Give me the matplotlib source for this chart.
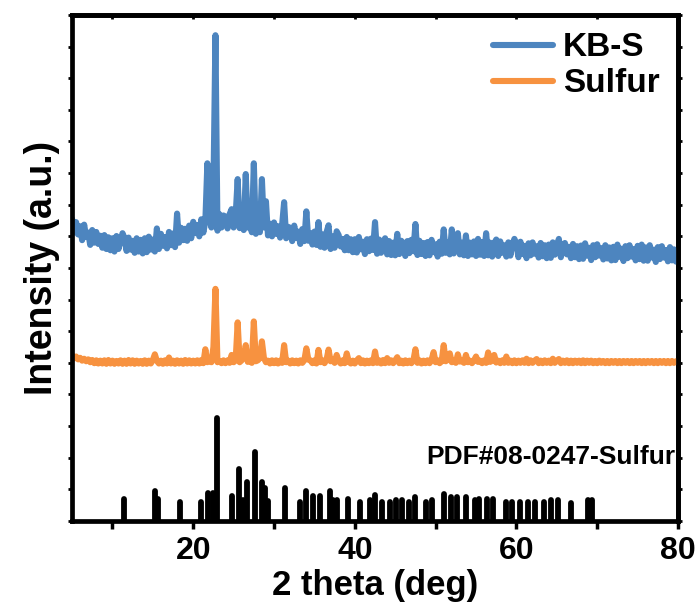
import numpy as np
import matplotlib
matplotlib.use("Agg")
import matplotlib.pyplot as plt

plt.rcParams['font.family'] = ['Liberation Sans', 'DejaVu Sans']
plt.rcParams['font.weight'] = 'bold'

# ---------------- data ----------------
two_theta = np.arange(5.0, 80.001, 0.25)

kbs_intensity = [
    9.55, 9.12, 9.45, 9.06,   # 5
    9.32, 8.88, 9.37, 8.98,   # 6
    9.12, 8.73, 9.20, 8.80,   # 7
    9.14, 8.76, 9.02, 8.64,   # 8
    9.04, 8.60, 8.97, 8.56,   # 9
    8.94, 8.52, 9.01, 8.60,   # 10
    8.84, 9.10, 8.94, 8.54,   # 11
    8.96, 8.58, 8.86, 8.48,   # 12
    8.94, 8.52, 8.89, 8.46,   # 13
    8.94, 8.50, 8.99, 8.58,   # 14
    8.90, 8.52, 9.25, 8.60,   # 15
    9.08, 8.70, 8.98, 8.62,   # 16
    9.14, 8.72, 9.09, 8.66,   # 17
    9.72, 8.80, 9.27, 8.88,   # 18
    9.24, 8.86, 9.34, 8.94,   # 19
    9.46, 9.10, 9.36, 9.00,   # 20
    9.54, 9.12, 9.47, 11.31,  # 21
    9.60, 9.28, 10.49, 15.36, # 22
    9.18, 9.70, 9.28, 9.66,   # 23
    9.62, 9.25, 9.70, 9.86,   # 24
    9.28, 9.66, 10.81, 9.26,  # 25
    9.60, 9.20, 10.97, 9.28,  # 26
    9.58, 9.13, 11.31, 9.08,  # 27
    9.50, 9.13, 10.81, 9.28,  # 28
    10.11, 9.03, 9.40, 9.00,  # 29
    9.44, 9.08, 9.32, 8.96,   # 30
    9.36, 10.08, 8.94, 9.30,  # 31
    9.27, 8.85, 9.34, 8.95,   # 32
    9.15, 8.76, 9.23, 8.85,   # 33
    9.79, 8.86, 9.10, 8.74,   # 34
    9.15, 8.73, 9.45, 8.67,   # 35
    9.06, 8.64, 9.13, 9.35,   # 36
    8.60, 9.00, 8.64, 9.16,   # 37
    9.04, 8.68, 8.92, 8.56,   # 38
    8.98, 8.56, 8.91, 8.50,   # 39
    8.91, 8.49, 8.98, 8.59,   # 40
    8.83, 8.44, 8.91, 8.53,   # 41
    8.93, 8.57, 9.45, 8.45,   # 42
    8.90, 8.48, 8.83, 8.94,   # 43
    8.43, 8.85, 8.41, 8.80,   # 44
    8.40, 9.08, 8.44, 8.86,   # 45
    8.77, 8.38, 8.85, 8.47,   # 46
    8.89, 8.53, 9.39, 8.41,   # 47
    8.86, 8.44, 8.79, 8.38,   # 48
    8.82, 8.40, 8.89, 8.50,   # 49
    8.75, 8.36, 8.83, 8.45,   # 50
    9.22, 8.48, 8.80, 8.43,   # 51
    9.22, 8.46, 8.80, 9.10,   # 52
    8.43, 8.80, 8.40, 9.03,   # 53
    8.38, 8.80, 8.43, 8.84,   # 54
    8.38, 8.92, 8.42, 8.82,   # 55
    8.38, 9.10, 8.40, 8.80,   # 56
    8.36, 8.78, 8.90, 8.38,   # 57
    8.84, 8.48, 8.72, 8.36,   # 58
    8.81, 8.39, 8.74, 8.92,   # 59
    8.76, 8.34, 8.83, 8.44,   # 60
    8.70, 8.31, 8.78, 8.40,   # 61
    8.81, 8.45, 8.69, 8.33,   # 62
    8.79, 8.37, 8.72, 8.31,   # 63
    8.74, 8.32, 8.81, 8.42,   # 64
    8.66, 8.92, 8.34, 8.74,   # 65
    8.79, 8.43, 8.67, 8.31,   # 66
    8.76, 8.34, 8.69, 8.28,   # 67
    8.71, 8.29, 8.78, 8.39,   # 68
    8.64, 8.25, 8.72, 8.34,   # 69
    8.75, 8.39, 8.63, 8.27,   # 70
    8.72, 8.30, 8.65, 8.24,   # 71
    8.67, 8.25, 8.74, 8.35,   # 72
    8.61, 8.22, 8.69, 8.31,   # 73
    8.72, 8.36, 8.60, 8.24,   # 74
    8.70, 8.28, 8.74, 8.23,   # 75
    8.65, 8.23, 8.72, 8.33,   # 76
    8.58, 8.19, 8.66, 8.28,   # 77
    8.69, 8.33, 8.57, 8.21,   # 78
    8.66, 8.24, 8.59, 8.20,   # 79
    8.50,                     # 80
]

sulfur_intensity = [
    5.24, 5.14, 5.20, 5.11,   # 5
    5.16, 5.07, 5.13, 5.05,   # 6
    5.11, 5.02, 5.09, 4.99,   # 7
    5.08, 4.98, 5.07, 4.98,   # 8
    5.08, 4.97, 5.09, 4.98,   # 9
    5.07, 4.97, 5.06, 4.98,   # 10
    5.08, 4.97, 5.07, 4.97,   # 11
    5.09, 4.98, 5.08, 4.97,   # 12
    5.07, 4.98, 5.06, 4.97,   # 13
    5.08, 4.97, 5.07, 4.98,   # 14
    5.09, 5.27, 5.06, 4.98,   # 15
    5.07, 4.97, 5.08, 4.98,   # 16
    5.17, 4.98, 5.07, 4.97,   # 17
    5.08, 4.98, 5.07, 4.97,   # 18
    5.09, 4.98, 5.08, 4.98,   # 19
    5.07, 4.98, 5.08, 4.98,   # 20
    5.09, 4.99, 5.43, 5.02,   # 21
    5.08, 5.02, 5.50, 7.34,   # 22
    5.02, 5.06, 4.99, 5.08,   # 23
    4.99, 5.08, 5.00, 5.25,   # 24
    5.02, 5.08, 6.28, 5.02,   # 25
    5.08, 5.20, 5.56, 5.03,   # 26
    5.08, 5.00, 6.31, 5.05,   # 27
    5.08, 5.15, 5.68, 5.15,   # 28
    5.02, 5.07, 4.98, 5.08,   # 29
    4.99, 5.08, 4.98, 5.07,   # 30
    5.00, 5.56, 5.02, 5.07,   # 31
    4.98, 5.08, 4.99, 5.07,   # 32
    4.98, 5.08, 5.00, 5.08,   # 33
    5.46, 5.10, 5.08, 4.99,   # 34
    5.08, 4.98, 5.41, 5.02,   # 35
    5.08, 4.99, 5.10, 5.42,   # 36
    5.05, 5.10, 5.00, 5.25,   # 37
    5.06, 4.98, 5.08, 4.99,   # 38
    5.30, 5.04, 4.98, 5.07,   # 39
    4.98, 5.08, 5.15, 4.99,   # 40
    5.08, 4.98, 5.07, 4.99,   # 41
    5.08, 4.99, 5.36, 5.00,   # 42
    5.08, 4.98, 5.09, 4.99,   # 43
    5.15, 5.00, 5.08, 4.99,   # 44
    5.08, 5.18, 4.99, 5.07,   # 45
    4.98, 5.08, 4.99, 5.07,   # 46
    4.99, 5.08, 5.43, 5.00,   # 47
    5.08, 4.98, 5.07, 4.99,   # 48
    5.08, 4.99, 5.10, 5.34,   # 49
    5.02, 5.08, 4.99, 5.05,   # 50
    5.56, 5.05, 5.10, 5.30,   # 51
    5.02, 5.08, 5.00, 5.27,   # 52
    5.04, 5.08, 5.00, 5.25,   # 53
    5.02, 5.07, 4.99, 5.08,   # 54
    5.20, 5.03, 5.07, 4.99,   # 55
    5.08, 5.00, 5.33, 5.03,   # 56
    5.07, 5.25, 5.01, 5.07,   # 57
    4.99, 5.08, 5.00, 5.20,   # 58
    5.00, 5.07, 4.99, 5.08,   # 59
    4.99, 5.07, 5.00, 5.08,   # 60
    5.00, 5.13, 4.99, 5.08,   # 61
    5.00, 5.07, 5.12, 4.99,   # 62
    5.07, 4.99, 5.08, 5.00,   # 63
    5.07, 4.99, 5.13, 5.00,   # 64
    5.07, 5.12, 4.99, 5.07,   # 65
    5.00, 5.08, 4.99, 5.07,   # 66
    4.99, 5.07, 5.00, 5.07,   # 67
    4.99, 5.08, 4.99, 5.07,   # 68
    5.00, 5.07, 4.99, 5.06,   # 69
    4.99, 5.07, 5.00, 5.06,   # 70
    4.99, 5.06, 4.99, 5.06,   # 71
    5.00, 5.06, 4.99, 5.06,   # 72
    4.99, 5.06, 5.00, 5.06,   # 73
    4.99, 5.06, 4.99, 5.06,   # 74
    5.00, 5.06, 4.99, 5.06,   # 75
    4.99, 5.06, 5.00, 5.06,   # 76
    4.99, 5.06, 4.99, 5.06,   # 77
    5.00, 5.06, 4.99, 5.06,   # 78
    4.99, 5.06, 5.00, 5.05,   # 79
    5.03,                     # 80
]

pdf_positions = [11.4, 15.3, 15.7, 18.4, 21.0, 21.8, 22.5, 23.0, 24.8, 25.7,
                 26.1, 26.6, 27.7, 28.5, 28.9, 29.2, 31.3, 33.2, 34.0, 34.8,
                 35.7, 36.9, 37.3, 37.8, 39.2, 40.6, 41.9, 42.5, 43.4, 44.3,
                 45.1, 45.9, 46.7, 47.5, 48.8, 49.6, 51.0, 51.9, 52.7, 53.7,
                 54.9, 55.4, 56.4, 57.1, 58.7, 59.5, 60.5, 61.4, 62.3, 63.4,
                 64.3, 65.2, 66.8, 68.9, 69.3]
pdf_heights = [0.68, 0.94, 0.71, 0.59, 0.59, 0.87, 0.90, 3.25, 0.78, 1.63,
               0.65, 1.22, 2.17, 1.22, 1.03, 0.62, 1.03, 0.59, 0.94, 0.78,
               0.78, 0.94, 0.65, 0.65, 0.71, 0.59, 0.65, 0.81, 0.59, 0.59,
               0.65, 0.65, 0.59, 0.75, 0.59, 0.65, 0.84, 0.75, 0.75, 0.75,
               0.65, 0.68, 0.68, 0.68, 0.59, 0.59, 0.59, 0.59, 0.59, 0.59,
               0.65, 0.65, 0.56, 0.65, 0.65]

series_labels = ["KB-S", "Sulfur"]
series_colors = ["#4D85BF", "#F79240"]
x_ticks = [20, 40, 60, 80]
x_minor = [10, 30, 50, 70]
pdf_label = "PDF#08-0247-Sulfur"

# ---------------- figure ----------------
fig = plt.figure(figsize=(7.0, 6.14), dpi=100)
ax = fig.add_axes([0.1029, 0.1515, 0.8657, 0.8241])

lw = 4.4
ax.plot(two_theta, kbs_intensity, color=series_colors[0], lw=lw,
        solid_joinstyle='round', solid_capstyle='round', label=series_labels[0])
ax.plot(two_theta, sulfur_intensity, color=series_colors[1], lw=lw,
        solid_joinstyle='round', solid_capstyle='round', label=series_labels[1])
sticks = ax.vlines(pdf_positions, 0, pdf_heights, colors='black', lw=4.2)
sticks.set_capstyle('round')

ax.text(79.7, 2.03, pdf_label, ha='right', va='center', fontsize=19,
        fontweight='bold')

ax.set_xlim(5, 80)
ax.set_ylim(0, 16)

for sp in ax.spines.values():
    sp.set_linewidth(3.4)

ax.set_xticks(x_ticks)
ax.set_xticks(x_minor, minor=True)
ax.set_yticks(range(0, 17))
ax.tick_params(axis='x', which='both', direction='out', length=6, width=2.5,
               labelsize=23, pad=5)
ax.tick_params(axis='y', which='both', direction='out', length=3, width=2.0,
               labelleft=False)

sec_top = ax.secondary_xaxis('top')
sec_top.set_xticks(list(range(10, 81, 10)))
sec_top.tick_params(direction='in', length=3, width=2.0, labeltop=False)
sec_top.spines['top'].set_linewidth(3.4)
sec_right = ax.secondary_yaxis('right')
sec_right.set_yticks(range(0, 17))
sec_right.tick_params(direction='out', length=3, width=2.0, labelright=False)
sec_right.spines['right'].set_linewidth(3.4)

for lab in ax.get_xticklabels():
    lab.set_fontweight('bold')

ax.set_xlabel("2 theta (deg)", fontsize=25, fontweight='bold', labelpad=2)
ax.set_ylabel("Intensity (a.u.)", fontsize=27, fontweight='bold', labelpad=6)

leg = ax.legend(loc='upper left', bbox_to_anchor=(0.695, 0.966), frameon=False,
                fontsize=24, handlelength=1.8, handletextpad=0.3,
                labelspacing=0.15, borderpad=0, borderaxespad=0)
for t in leg.get_texts():
    t.set_fontweight('bold')
for h in leg.get_lines():
    h.set_linewidth(lw)
    h.set_solid_capstyle('round')

fig.savefig("out.png", dpi=100)
